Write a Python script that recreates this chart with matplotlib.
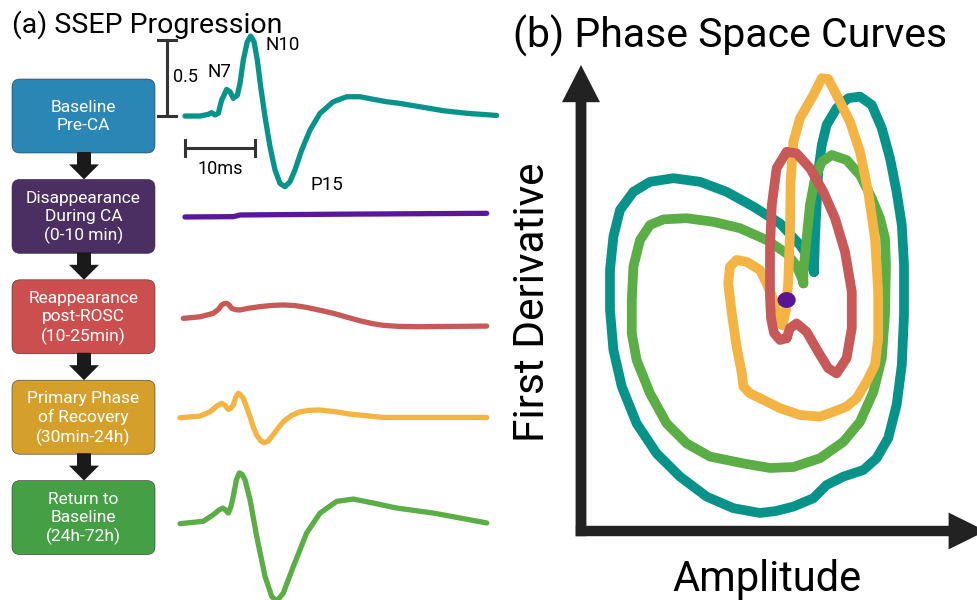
import matplotlib
matplotlib.use("Agg")
import matplotlib.pyplot as plt
from matplotlib.patches import FancyBboxPatch, FancyArrow, Ellipse

plt.rcParams['font.family'] = ['Roboto', 'DejaVu Sans']

# Stages of the SSEP progression (box label, box colour, trace colour)
stage_labels = ["Baseline\nPre-CA",
                "Disappearance\nDuring CA\n(0-10 min)",
                "Reappearance\npost-ROSC\n(10-25min)",
                "Primary Phase\nof Recovery\n(30min-24h)",
                "Return to\nBaseline\n(24h-72h)"]
box_colors = ["#2a86b5", "#4b2f63", "#cb4f4e", "#d4a02b", "#45a045"]
trace_colors = ["#079389", "#5b169c", "#c75a58", "#f3b443", "#5bad45"]

# Waveforms: time (ms) and amplitude (uV) relative to each row baseline
baseline_t = [0, 2.14, 3.33, 3.81, 4.29, 4.76, 5.24, 5.95, 6.43, 6.90, 7.48, 7.86, 8.33,
              8.90, 9.38, 9.86, 10.33, 10.81, 11.43, 12.14, 12.86, 13.57, 14.29, 15.0,
              15.71, 16.67, 17.86, 19.29, 21.19, 23.10, 25.0, 26.90, 28.81, 30.71, 33.57,
              36.90, 40.24, 44.52]
baseline_v = [0, 0, 0.011, 0.022, 0.007, 0.018, 0.105, 0.175, 0.16, 0.116, 0.138, 0.215,
              0.368, 0.489, 0.526, 0.489, 0.368, 0.193, -0.004, -0.202, -0.355, -0.443,
              -0.465, -0.432, -0.355, -0.224, -0.092, 0.018, 0.094, 0.127, 0.127, 0.110,
              0.094, 0.083, 0.061, 0.035, 0.018, 0.004]

arrest_t = [0, 6.9, 7.86, 21.19, 43.1]
arrest_v = [0, 0.002, 0.013, 0.018, 0.024]

rosc_t = [-0.24, 2.14, 4.05, 4.8, 5.24, 5.6, 5.95, 6.3, 6.67, 7.2, 7.86, 9.0, 10.71, 12.4,
          14.05, 15.7, 17.38, 19.3, 21.19, 23.1, 25.0, 26.7, 28.33, 30.5, 33.1, 43.1]
rosc_v = [0, 0.01, 0.033, 0.06, 0.088, 0.097, 0.099, 0.088, 0.066, 0.057, 0.055, 0.066,
          0.077, 0.085, 0.088, 0.084, 0.072, 0.053, 0.033, 0.008, -0.016, -0.034, -0.046,
          -0.053, -0.055, -0.051]

primary_t = [-0.71, 2.14, 3.57, 4.5, 5.24, 5.7, 6.19, 6.55, 6.90, 7.25, 7.62, 7.95, 8.33,
             8.8, 9.29, 9.75, 10.24, 10.8, 11.29, 11.85, 12.38, 13.2, 14.05, 15.2, 16.43,
             17.8, 19.29, 21.4, 23.57, 28.33, 43.1]
primary_v = [0, 0.011, 0.039, 0.075, 0.095, 0.082, 0.055, 0.062, 0.084, 0.135, 0.161, 0.150,
             0.128, 0.070, 0.007, -0.060, -0.114, -0.150, -0.164, -0.155, -0.125, -0.075,
             -0.026, 0.015, 0.039, 0.049, 0.051, 0.040, 0.024, 0.002, 0.002]

recovery_t = [-0.71, 2.62, 4.05, 4.8, 5.38, 5.8, 6.19, 6.55, 6.90, 7.35, 7.76, 8.15, 8.57,
              9.29, 10.24, 11.43, 12.38, 13.10, 14.05, 15.48, 17.38, 19.29, 21.67, 24.05,
              26.90, 30.24, 35.48, 43.1]
recovery_v = [0, 0.016, 0.059, 0.088, 0.103, 0.090, 0.070, 0.110, 0.180, 0.290, 0.334,
              0.325, 0.289, 0.158, -0.083, -0.346, -0.478, -0.511, -0.456, -0.281, -0.061,
              0.070, 0.147, 0.162, 0.136, 0.103, 0.070, 0.005]

row_offsets = [0, -0.664, -1.331, -1.985, -2.682]

# Phase-space loops (amplitude, first derivative), arbitrary units
teal_amp = [58.25, 58.5, 58.9, 59.3, 60.2, 61.4, 63.9, 66.8, 69.75, 72.7, 75.2, 77.25, 78.9,
            80.2, 80.75, 80.75, 80.2, 78.9, 76.8, 73.9, 70.6, 65.6, 61.4, 58.1, 53.1, 48.75,
            44.75, 38.1, 31.4, 24.75, 18.9, 13.9, 10.2, 8.1, 7.25, 7.25, 8.1, 9.75, 13.1,
            17.25, 23.1, 29.75, 36.4, 43.1, 49.75, 54.75, 57.0, 58.25]
teal_der = [64.75, 73.2, 81.5, 89.8, 96.5, 101.5, 105.7, 108.2, 108.6, 106.5, 100.7, 93.2,
            84.8, 76.5, 66.5, 54.0, 41.5, 31.5, 23.2, 18.2, 15.25, 13.6, 11.5, 8.2, 6.1, 5.0,
            4.5, 5.7, 8.6, 13.6, 19.4, 26.9, 36.1, 45.25, 55.25, 65.25, 73.6, 80.25, 84.8,
            87.3, 88.2, 87.3, 84.8, 81.1, 76.9, 71.5, 68.25, 64.75]

green_amp = [55.6, 55.6, 56.4, 57.25, 58.5, 60.2, 62.7, 66.4, 69.75, 72.7, 74.75, 76.0, 76.25,
             76.0, 75.2, 73.1, 69.75, 65.6, 59.75, 53.1, 47.25, 40.6, 32.25, 26.4, 21.4,
             17.25, 13.9, 12.7, 12.7, 13.1, 14.75, 17.25, 20.6, 26.4, 33.1, 39.75, 46.4,
             51.4, 53.75, 55.2, 55.6]
green_der = [61.9, 64.8, 73.2, 81.5, 88.2, 92.3, 94.0, 92.75, 89.0, 83.2, 78.2, 73.2, 66.5,
             54.0, 43.2, 34.8, 27.3, 22.3, 18.2, 16.0, 15.75, 16.9, 18.6, 21.9, 26.9, 34.4,
             42.75, 49.4, 57.75, 66.1, 72.75, 76.5, 77.9, 78.2, 77.3, 75.7, 72.75, 69.4, 66.5,
             63.25, 61.9]

red_amp = [51.4, 49.75, 48.25, 47.5, 47.25, 47.25, 47.25, 47.7, 48.9, 51.4, 53.9, 57.25,
           60.6, 63.5, 66.0, 67.7, 67.7, 66.4, 63.9, 61.8, 59.3, 56.4, 53.9, 52.25, 51.4]
red_der = [48.2, 47.75, 49.5, 53.25, 58.2, 65.25, 70.7, 81.5, 90.7, 94.8, 94.4, 90.7, 84.8,
           78.2, 69.8, 59.8, 50.7, 43.2, 39.4, 40.7, 44.8, 49.8, 51.9, 50.7, 48.2]

yellow_amp = [50.4, 51.25, 51.8, 52.25, 52.4, 53.1, 54.75, 58.1, 60.2, 61.8, 63.9, 67.25,
              69.75, 71.8, 73.5, 74.3, 74.3, 73.5, 71.4, 68.9, 66.4, 63.1, 59.75, 54.75,
              49.75, 44.75, 42.25, 40.6, 40.2, 38.9, 37.7, 36.8, 37.25, 38.9, 41.4, 44.75,
              46.4, 48.1, 49.3, 50.4]
yellow_der = [51.5, 55.25, 62.3, 74.8, 87.3, 97.3, 103.2, 109.0, 113.2, 113.0, 109.0, 102.3,
              94.8, 84.8, 73.2, 59.8, 48.2, 41.5, 37.3, 33.2, 31.1, 29.8, 28.6, 29.0, 30.7,
              33.2, 34.4, 36.1, 39.4, 46.1, 54.4, 61.9, 66.1, 67.75, 67.3, 65.25, 61.9, 57.75,
              53.6, 51.5]

arrest_point = (51.4, 57.75)

W, H = 978, 600
fig = plt.figure(figsize=(W / 100, H / 100), dpi=100)

# Layout layer in pixel units for boxes, arrows and titles
lay = fig.add_axes([0, 0, 1, 1])
lay.set_xlim(0, W)
lay.set_ylim(H, 0)
lay.axis('off')

lay.text(12, 33, "(a) SSEP Progression", fontsize=20.5, va='baseline', ha='left')
lay.text(513, 48, "(b) Phase Space Curves", fontsize=29.5, va='baseline', ha='left')

box_left, box_w, box_h, box_top0, pitch = 12, 143, 74, 79, 100.4
for i, (label, col) in enumerate(zip(stage_labels, box_colors)):
    top = box_top0 + i * pitch
    lay.add_patch(FancyBboxPatch((box_left, top), box_w, box_h,
                                 boxstyle="round,pad=0,rounding_size=8",
                                 fc=col, ec="#333333", lw=0.4))
    lay.text(box_left + box_w / 2, top + box_h / 2 + 1, label, color='white',
             fontsize=12.5, ha='center', va='center', linespacing=1.25)
    if i < len(stage_labels) - 1:
        y0 = top + box_h - 1
        lay.add_patch(FancyArrow(84, y0, 0, pitch - box_h + 1, width=14, head_width=30,
                                 head_length=15, length_includes_head=True,
                                 color="#1a1a1a", lw=0))

# Waveforms, stacked with one baseline per stage
wave = fig.add_axes([160 / W, 0, 340 / W, 570 / H])
wave.set_xlim(-3.571, 45)
wave.set_ylim(-3.184, 0.566)
wave.axis('off')

traces = [(baseline_t, baseline_v), (arrest_t, arrest_v), (rosc_t, rosc_v),
          (primary_t, primary_v), (recovery_t, recovery_v)]
for (t, v), off, col in zip(traces, row_offsets, trace_colors):
    wave.plot(t, [a + off for a in v], color=col, lw=3.8,
              solid_joinstyle='round', solid_capstyle='round')

# Scale bars: 0.5 uV and 10 ms
bar_col = "#333333"
wave.plot([-2.57, -2.57], [0.0, 0.5], color=bar_col, lw=2.2)
for yy in (0.0, 0.5):
    wave.plot([-3.8, -1.35], [yy, yy], color=bar_col, lw=2.2, clip_on=False)
wave.plot([0, 10], [-0.21, -0.21], color=bar_col, lw=2.2)
for xx in (0, 10):
    wave.plot([xx, xx], [-0.265, -0.155], color=bar_col, lw=2.2)
wave.text(-1.71, 0.257, "0.5", fontsize=13, ha='left', va='center')
wave.text(5.0, -0.349, "10ms", fontsize=13, ha='center', va='center')
wave.text(5.0, 0.289, "N7", fontsize=13.5, ha='center', va='center')
wave.text(14.0, 0.467, "N10", fontsize=13.5, ha='center', va='center')
wave.text(20.3, -0.454, "P15", fontsize=13.5, ha='center', va='center')

# Phase space panel
ph = fig.add_axes([581 / W, 69 / H, 397 / W, 466 / H])
ph.set_xlim(0, 99.25)
ph.set_ylim(0, 116.5)
ph.axis('off')

for amp, der, col in [(teal_amp, teal_der, trace_colors[0]),
                      (green_amp, green_der, trace_colors[4]),
                      (yellow_amp, yellow_der, trace_colors[3]),
                      (red_amp, red_der, trace_colors[2])]:
    ph.plot(amp, der, color=col, lw=7, solid_joinstyle='round',
            solid_capstyle='round', clip_on=False)
ph.add_patch(Ellipse(arrest_point, 4.2, 3.6, color="#5a1496", zorder=5))

axis_col = "#222222"
ph.add_patch(FancyArrow(0, -1.3, 0, 117.8, width=2.7, head_width=9.5, head_length=9.3,
                        length_includes_head=True, color=axis_col, lw=0, clip_on=False))
ph.add_patch(FancyArrow(-1.3, 0, 102.5, 0, width=2.6, head_width=9.2, head_length=9.3,
                        length_includes_head=True, color=axis_col, lw=0, clip_on=False))

lay.text(767, 591, "Amplitude", fontsize=30, ha='center', va='baseline')
lay.text(533, 302, "First Derivative", fontsize=30.5, ha='center', va='center',
         rotation=90)

fig.savefig("out.png", dpi=100)
